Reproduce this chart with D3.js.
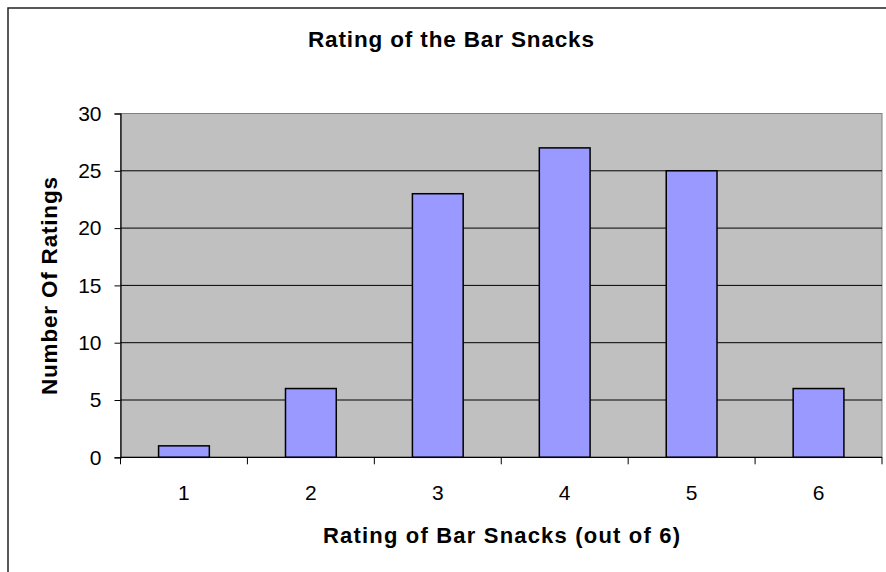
<!DOCTYPE html>
<html><head><meta charset="utf-8">
<script src="https://cdn.jsdelivr.net/npm/d3@7"></script>
<style>body{margin:0;background:#fff}svg{display:block}text{font-family:"Liberation Sans",Arial,sans-serif;fill:#000}</style>
</head><body>
<script>
const categories = ["1","2","3","4","5","6"];
const values = [1, 6, 23, 27, 25, 6];
const yTicks = [0, 5, 10, 15, 20, 25, 30];
const title = "Rating of the Bar Snacks";
const xTitle = "Rating of Bar Snacks (out of 6)";
const yTitle = "Number Of Ratings";

const W = 886, H = 572;
const plot = {left: 120.5, right: 882, top: 113.5, bottom: 457.3};
const svg = d3.select("body").append("svg").attr("width", W).attr("height", H);

svg.append("rect").attr("x", 8).attr("y", 8).attr("width", W + 20).attr("height", H + 20)
  .attr("fill", "#fff").attr("stroke", "#222").attr("stroke-width", 1.5);

const x = d3.scaleBand().domain(categories).range([plot.left, plot.right]).paddingInner(0.6).paddingOuter(0.3);
const xb = d3.scaleBand().domain(categories).range([plot.left, plot.right]);
const y = d3.scaleLinear().domain([0, 30]).range([plot.bottom, plot.top]);

svg.append("rect").attr("x", plot.left).attr("y", plot.top)
  .attr("width", plot.right - plot.left).attr("height", plot.bottom - plot.top)
  .attr("fill", "#C0C0C0").attr("stroke", "#808080").attr("stroke-width", 1);

svg.append("g").selectAll("line").data(yTicks.filter(d => d > 0 && d < 30)).join("line")
  .attr("x1", plot.left).attr("x2", plot.right)
  .attr("y1", d => y(d)).attr("y2", d => y(d))
  .attr("stroke", "#000").attr("stroke-width", 1);

svg.append("g").selectAll("rect").data(values).join("rect")
  .attr("x", (d, i) => x(categories[i]))
  .attr("width", x.bandwidth())
  .attr("y", d => y(d))
  .attr("height", d => y(0) - y(d))
  .attr("fill", "#9999FF").attr("stroke", "#000").attr("stroke-width", 1.5);

// y axis
const yAxis = d3.axisLeft(y).tickValues(yTicks).tickSize(6).tickPadding(13);
const gy = svg.append("g").attr("transform", `translate(${plot.left},0)`).call(yAxis);
gy.attr("font-size", null).attr("font-family", null);
gy.select(".domain").attr("stroke", "#000").attr("stroke-width", 1.2);
gy.selectAll(".tick line").attr("stroke", "#000");
gy.selectAll(".tick text").style("font-size", "21px").attr("fill", "#000");

// x axis
const gx = svg.append("g").attr("transform", `translate(0,${plot.bottom})`);
gx.append("line").attr("x1", plot.left).attr("x2", plot.right).attr("stroke", "#000").attr("stroke-width", 1.2);
const bounds = categories.map(c => xb(c)).concat([plot.right]);
gx.selectAll(".xt").data(bounds).join("line").attr("class", "xt")
  .attr("x1", d => d).attr("x2", d => d).attr("y1", 0).attr("y2", 7)
  .attr("stroke", "#000").attr("stroke-width", 1);
gx.selectAll(".xl").data(categories).join("text").attr("class", "xl")
  .attr("x", d => xb(d) + xb.bandwidth() / 2).attr("y", 42.5)
  .attr("text-anchor", "middle").style("font-size", "21px").text(d => d);

svg.append("text").attr("x", 451).attr("y", 47).attr("text-anchor", "middle")
  .style("font-size", "22.5px").attr("font-weight", "bold")
  .attr("textLength", 286).attr("lengthAdjust", "spacing").text(title);

svg.append("text").attr("x", 501.5).attr("y", 543).attr("text-anchor", "middle")
  .style("font-size", "22px").attr("font-weight", "bold")
  .attr("textLength", 357).attr("lengthAdjust", "spacing").text(xTitle);

svg.append("text").attr("transform", "translate(57,286) rotate(-90)").attr("text-anchor", "middle")
  .style("font-size", "22.5px").attr("font-weight", "bold")
  .attr("textLength", 218).attr("lengthAdjust", "spacing").text(yTitle);
</script>
</body></html>
